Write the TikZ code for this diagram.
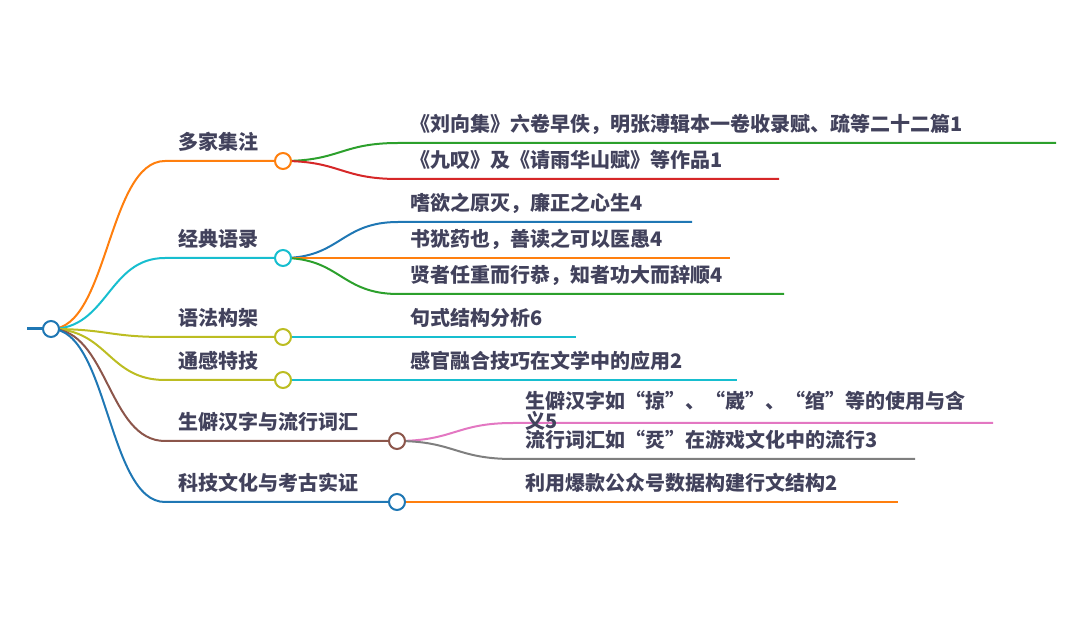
\documentclass[tikz,border=0pt]{standalone}
\usepackage{fontspec}
\setmainfont{Noto Sans CJK SC}
\usepackage{xcolor}
\usetikzlibrary{positioning}
\definecolor{cBlue}{HTML}{1F77B4}
\definecolor{cOrange}{HTML}{FF7F0E}
\definecolor{cGreen}{HTML}{2CA02C}
\definecolor{cRed}{HTML}{D62728}
\definecolor{cBrown}{HTML}{8C564B}
\definecolor{cPink}{HTML}{E377C2}
\definecolor{cGray}{HTML}{7F7F7F}
\definecolor{cOlive}{HTML}{BCBD22}
\definecolor{cCyan}{HTML}{17BECF}
\definecolor{ink}{RGB}{66,66,92}
\tikzset{
topic/.style={
anchor=base west,
inner sep=0pt,
text=ink,
font=\fontsize{20}{16}\selectfont\bfseries
},
leaf/.style={
anchor=base west,
inner sep=0pt,
align=left,
text=ink,
font=\fontsize{20}{16}\selectfont\bfseries
},
link/.style={
line width=2pt
},
dot/.style={
circle,
draw=#1,
fill=white,
line width=2pt,
minimum size=16pt,
inner sep=0pt
}
}

\begin{document}
\begin{tikzpicture}[x=1pt,y=-1pt]
\useasboundingbox (0,0) rectangle (1080,617);
% points
\coordinate (r) at (51,329);
\coordinate (r0) at (27,329);
\coordinate (a0) at (165,161);
\coordinate (a) at (283,161);
\coordinate (b0) at (165,258);
\coordinate (b) at (283,258);
\coordinate (c0) at (165,337);
\coordinate (c) at (283,337);
\coordinate (d0) at (165,380);
\coordinate (d) at (283,380);
\coordinate (e0) at (165,441);
\coordinate (e) at (397,441);
\coordinate (f0) at (165,502);
\coordinate (f) at (397,502);
\coordinate (a1) at (398,143);
\coordinate (a1e) at (1056,143);
\coordinate (a2) at (398,179);
\coordinate (a2e) at (779,179);
\coordinate (b1) at (398,222);
\coordinate (b1e) at (692,222);
\coordinate (b2) at (398,258);
\coordinate (b2e) at (730,258);
\coordinate (b3) at (398,294);
\coordinate (b3e) at (784,294);
\coordinate (c1e) at (576,337);
\coordinate (d1e) at (737,380);
\coordinate (e1) at (513,423);
\coordinate (e1e) at (993,423);
\coordinate (e2) at (513,459);
\coordinate (e2e) at (915,459);
\coordinate (f1e) at (898,502);

% first level
\draw[link,cBlue,line width=3pt](r0)--(r);
\draw[link,cOrange](r) .. controls +(57,0) and +(-57,0) .. (a0)--(a);
\draw[link,cCyan](r) .. controls +(57,0) and +(-57,0) .. (b0)--(b);
\draw[link,cOlive](r) .. controls +(57,0) and +(-57,0) .. (c0)--(c);
\draw[link,cOlive](r) .. controls +(57,0) and +(-57,0) .. (d0)--(d);
\draw[link,cBrown](r) .. controls +(57,0) and +(-57,0) .. (e0)--(e);
\draw[link,cBlue](r) .. controls +(57,0) and +(-57,0) .. (f0)--(f);

% second level
\draw[link,cGreen](a) .. controls +(57,0) and +(-57,0) .. (a1)--(a1e);
\draw[link,cRed](a) .. controls +(57,0) and +(-57,0) .. (a2)--(a2e);
\draw[link,cBlue](b) .. controls +(57,0) and +(-57,0) .. (b1)--(b1e);
\draw[link,cOrange](b)--(b2e);
\draw[link,cGreen](b) .. controls +(57,0) and +(-57,0) .. (b3)--(b3e);
\draw[link,cCyan](c)--(c1e);
\draw[link,cCyan](d)--(d1e);
\draw[link,cPink](e) .. controls +(57,0) and +(-57,0) .. (e1)--(e1e);
\draw[link,cGray](e) .. controls +(57,0) and +(-57,0) .. (e2)--(e2e);
\draw[link,cOrange](f)--(f1e);

% circles
\node[dot=cBlue](rc) at (r){};
\node[dot=cOrange](ac) at (a){};
\node[dot=cCyan](bc) at (b){};
\node[dot=cOlive](cc) at (c){};
\node[dot=cOlive](dc) at (d){};
\node[dot=cBrown](ec) at (e){};
\node[dot=cBlue](fc) at (f){};

% texts
\node[topic](ta) at (178,150){多家集注};
\node[topic](tb) at (178,247){经典语录};
\node[topic](tc) at (178,326){语法构架};
\node[topic](td) at (178,369){通感特技};
\node[topic](te) at (178,430){生僻汉字与流行词汇};
\node[topic](tf) at (178,491){科技文化与考古实证};

\node[leaf](ta1) at (410,132){《刘向集》六卷早佚，明张溥辑本一卷收录赋、疏等二十二篇1};
\node[leaf](ta2) at (410,168){《九叹》及《请雨华山赋》等作品1};
\node[leaf](tb1) at (410,211){嗜欲之原灭，廉正之心生4};
\node[leaf](tb2) at (410,247){书犹药也，善读之可以医愚4};
\node[leaf](tb3) at (410,283){贤者任重而行恭，知者功大而辞顺4};
\node[leaf](tc1) at (410,326){句式结构分析6};
\node[leaf](td1) at (410,369){感官融合技巧在文学中的应用2};
\node[leaf](te1) at (525,429){生僻汉字如“掠”、“崴”、“绾”等的使用与含\\义5};
\node[leaf](te2) at (525,448){流行词汇如“烎”在游戏文化中的流行3};
\node[leaf](tf1) at (525,491){利用爆款公众号数据构建行文结构2};
\end{tikzpicture}
\end{document}
